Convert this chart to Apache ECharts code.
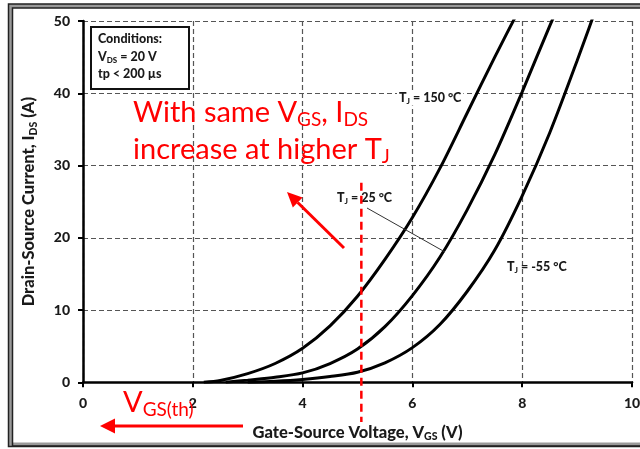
<!DOCTYPE html>
<html>
<head>
<meta charset="utf-8">
<script src="https://cdn.jsdelivr.net/npm/echarts@6/dist/echarts.min.js"></script>
<style>
  html, body { margin: 0; padding: 0; background: #fff; }
  #chart { width: 640px; height: 449px; }
</style>
</head>
<body>
<div id="chart"></div>
<script>
// Transfer characteristics: drain current vs gate-source voltage at three junction temperatures.
// Each curve runs a little past 50 A and is clipped by the plot area.
const vgs150 = [2.2, 2.5, 3.0, 3.5, 4.0, 4.5, 5.0, 5.5, 6.0, 6.5, 7.0, 7.5, 8.0];
const ids150 = [0, 0.25, 1.2, 2.6, 4.7, 7.8, 11.9, 17.0, 22.8, 29.6, 37.3, 45.0, 52.4];

const vgs25 = [2.6, 3.0, 3.5, 4.0, 4.5, 5.0, 5.5, 6.0, 6.5, 7.0, 7.5, 8.0, 8.5, 9.0];
const ids25 = [0, 0.3, 0.7, 1.3, 2.6, 4.6, 7.7, 12.0, 17.3, 23.9, 31.5, 40.2, 49.3, 58];

const vgsM55 = [3.0, 3.5, 4.0, 4.5, 5.0, 5.5, 6.0, 6.5, 7.0, 7.5, 8.0, 8.5, 9.0, 9.5];
const idsM55 = [0, 0.15, 0.4, 0.8, 1.4, 2.7, 4.8, 8.0, 12.6, 18.3, 25.8, 34.5, 44.5, 55];

// Reference gate voltage marked by the red dashed line, and its extent in amps
const vgsRef = 5.07;
const refTop = 27.6;
const refBottom = -5.5;

const xRange = [0, 10];
const yRange = [0, 50];
const xStep = 2;
const yStep = 10;

const FONT = 'Lato, "Open Sans", "DejaVu Sans", sans-serif';

const pairs = (xs, ys) => xs.map((x, i) => [x, ys[i]]);

const chart = echarts.init(document.getElementById('chart'), null, { renderer: 'canvas' });

const axisCommon = {
  type: 'value',
  axisLine: { show: true, onZero: false, lineStyle: { color: '#000', width: 2.5 } },
  axisTick: { show: true, inside: false, length: 5, lineStyle: { color: '#000', width: 2 } },
  splitLine: { show: true, lineStyle: { type: [5, 3], color: '#555', width: 1.2 } }
};
const tickLabel = (margin) => ({ fontFamily: FONT, fontWeight: 900, fontSize: 14, color: '#1a1a1a', margin });

const nameRich = {
  t: { fontFamily: FONT, fontWeight: 900, fontSize: 16.5, color: '#1a1a1a', lineHeight: 20 },
  s: { fontFamily: FONT, fontWeight: 900, fontSize: 10.5, color: '#1a1a1a', lineHeight: 12, verticalAlign: 'bottom' }
};

const lineSeries = (name, xs, ys) => ({
  name,
  type: 'line',
  data: pairs(xs, ys),
  smooth: 0.3,
  clip: true,
  showSymbol: false,
  symbol: 'none',
  lineStyle: { color: '#000', width: 3 },
  z: 5
});

chart.setOption({
  animation: false,
  backgroundColor: '#fff',
  grid: { left: 83, right: 8, top: 21, bottom: 66.7, outerBoundsMode: 'none' },
  xAxis: Object.assign({}, axisCommon, {
    min: xRange[0], max: xRange[1], interval: xStep,
    axisLabel: tickLabel(14),
    name: '{t|Gate-Source Voltage, V}{s|GS}{t| (V)}',
    nameLocation: 'middle',
    nameGap: 40,
    nameTextStyle: { rich: nameRich }
  }),
  yAxis: Object.assign({}, axisCommon, {
    min: yRange[0], max: yRange[1], interval: yStep,
    axisLabel: tickLabel(13),
    name: '{t|Drain-Source Current, I}{s|DS}{t| (A)}',
    nameLocation: 'middle',
    nameGap: 44,
    nameRotate: 90,
    nameTextStyle: { rich: nameRich }
  }),
  series: [
    lineSeries('TJ = 150 °C', vgs150, ids150),
    lineSeries('TJ = 25 °C', vgs25, ids25),
    lineSeries('TJ = -55 °C', vgsM55, idsM55)
  ]
});

const px = (x, y) => chart.convertToPixel({ gridIndex: 0 }, [x, y]);

// Arrow helper: shaft plus filled triangular head at (x2, y2)
function arrow(x1, y1, x2, y2, color, width, headLen, headHalf) {
  const dx = x2 - x1, dy = y2 - y1;
  const len = Math.hypot(dx, dy);
  const ux = dx / len, uy = dy / len;
  const bx = x2 - ux * headLen, by = y2 - uy * headLen;
  return [
    { type: 'line', z: 100, shape: { x1, y1, x2: bx, y2: by }, style: { stroke: color, lineWidth: width } },
    { type: 'polygon', z: 100, shape: { points: [[x2, y2], [bx - uy * headHalf, by + ux * headHalf], [bx + uy * headHalf, by - ux * headHalf]] }, style: { fill: color } }
  ];
}

const smallRich = {
  b: { fontFamily: FONT, fontWeight: 900, fontSize: 12.5, fill: '#1a1a1a', lineHeight: 15 },
  s: { fontFamily: FONT, fontWeight: 900, fontSize: 8, fill: '#1a1a1a', lineHeight: 10, verticalAlign: 'bottom' }
};
const redRich = {
  r: { fontFamily: FONT, fontSize: 29, fill: '#ff0000', lineHeight: 32 },
  s: { fontFamily: FONT, fontSize: 19, fill: '#ff0000', lineHeight: 19, verticalAlign: 'bottom' }
};

const refTopPx = px(vgsRef, refTop);
const refBotPx = px(vgsRef, refBottom);

const graphics = [
  // double frame around the figure
  { type: 'rect', z: 100, shape: { x: 10.5, y: 6, width: 640, height: 438.5 }, style: { fill: 'none', stroke: '#999', lineWidth: 4 } },
  { type: 'rect', z: 101, shape: { x: 8.5, y: 4, width: 640, height: 442.5 }, style: { fill: 'none', stroke: '#222', lineWidth: 1.5 } },
  { type: 'rect', z: 101, shape: { x: 12.5, y: 8, width: 640, height: 438 }, style: { fill: 'none', stroke: '#222', lineWidth: 1.5 } },

  // test conditions box
  { type: 'rect', z: 100, shape: { x: 91, y: 27, width: 98, height: 62 }, style: { fill: '#fff', stroke: '#111', lineWidth: 2 } },
  { type: 'text', z: 101, x: 98, y: 39, style: { text: '{b|Conditions:}', rich: smallRich, align: 'left', verticalAlign: 'middle' } },
  { type: 'text', z: 101, x: 98, y: 57, style: { text: '{b|V}{s|DS}{b| = 20 V}', rich: smallRich, align: 'left', verticalAlign: 'middle' } },
  { type: 'text', z: 101, x: 98, y: 74, style: { text: '{b|tp < 200 µs}', rich: smallRich, align: 'left', verticalAlign: 'middle' } },

  // curve labels
  { type: 'text', z: 100, x: 397, y: 98, style: { text: '{b|T}{s|J}{b| = 150 °C}', rich: smallRich, align: 'left', verticalAlign: 'middle', backgroundColor: '#fff', padding: [0, 2] } },
  { type: 'text', z: 100, x: 337, y: 198, style: { text: '{b|T}{s|J}{b| = 25 °C}', rich: smallRich, align: 'left', verticalAlign: 'middle' } },
  { type: 'line', z: 100, shape: { x1: 367, y1: 208, x2: 445, y2: 252 }, style: { stroke: '#333', lineWidth: 1 } },
  { type: 'text', z: 100, x: 507, y: 267, style: { text: '{b|T}{s|J}{b| = -55 °C}', rich: smallRich, align: 'left', verticalAlign: 'middle' } },

  // red annotation text
  { type: 'text', z: 102, x: 133, y: 113, style: { text: '{r|With same V}{s|GS}{r|, I}{s|DS}', rich: redRich, align: 'left', verticalAlign: 'middle' } },
  { type: 'text', z: 102, x: 133, y: 150, style: { text: '{r|increase at higher T}{s|J}', rich: redRich, align: 'left', verticalAlign: 'middle' } },
  { type: 'text', z: 102, x: 123, y: 403, style: { text: '{r|V}{s|GS(th)}', rich: redRich, align: 'left', verticalAlign: 'middle' } },

  // red dashed line at the reference gate voltage
  { type: 'line', z: 102, shape: { x1: refTopPx[0], y1: refTopPx[1], x2: refBotPx[0], y2: refBotPx[1] }, style: { stroke: '#ff0000', lineWidth: 2.5, lineDash: [8, 5] } }
]
  .concat(arrow(344, 248, 287, 192, '#ff0000', 3, 15, 7))
  .concat(arrow(243, 426, 100, 426, '#ff0000', 3, 15, 7.5));

chart.setOption({ graphic: graphics });
</script>
</body>
</html>
